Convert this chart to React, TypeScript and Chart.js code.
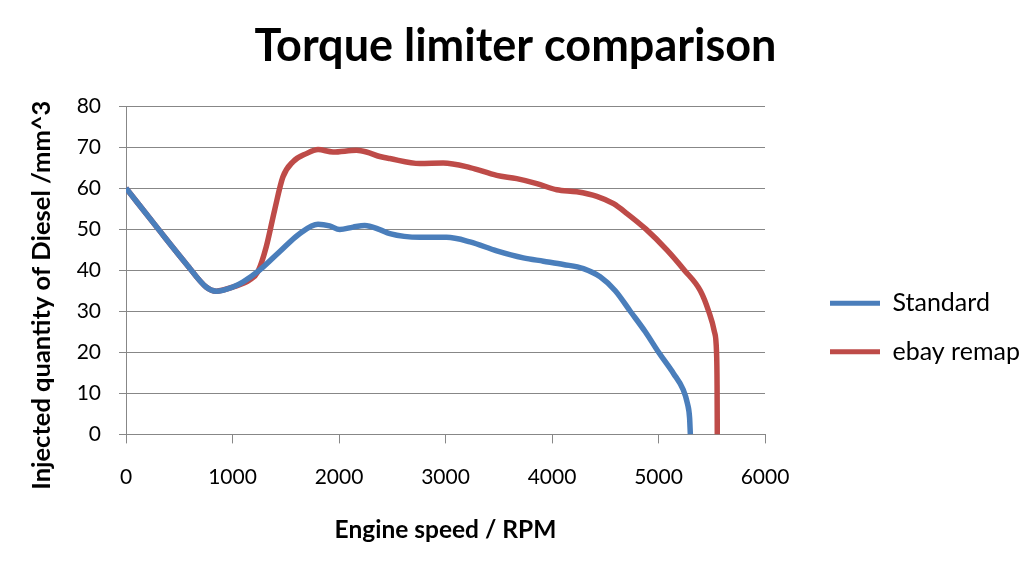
import React, { useEffect, useRef } from 'react';
import { Chart, registerables } from 'chart.js';

Chart.register(...registerables);

// ---- data ----
const chartTitle = 'Torque limiter comparison';
const xAxisTitle = 'Engine speed / RPM';
const yAxisTitle = 'Injected quantity of Diesel /mm^3';
const seriesNames = ['Standard', 'ebay remap'];
const seriesColors = ['#4A7EBB', '#BE4B48'];

const rpmStandard = [0, 313, 564, 752, 847, 1003, 1097, 1254, 1442, 1630, 1803, 1912, 2007, 2132, 2242, 2383, 2477, 2759, 3010, 3230, 3481, 3731, 3919, 4107, 4295, 4452, 4594, 4735, 4876, 5001, 5142, 5230, 5272, 5292, 5299];
const qtyStandard = [60, 49.7, 41.6, 35.9, 34.9, 35.9, 37.1, 40, 44.5, 48.9, 51.2, 50.8, 49.9, 50.5, 50.9, 49.9, 48.9, 48.0, 48.0, 46.9, 44.7, 43.0, 42.2, 41.4, 40.4, 38.4, 35, 30, 25, 20, 14.8, 11, 7.5, 4, 0];

const rpmRemap = [0, 313, 564, 752, 847, 1003, 1160, 1238, 1317, 1395, 1473, 1567, 1693, 1803, 1944, 2164, 2258, 2383, 2477, 2759, 2978, 3230, 3481, 3669, 3857, 4045, 4233, 4421, 4578, 4704, 4882, 5080, 5243, 5393, 5471, 5525, 5545, 5550, 5552];
const qtyRemap = [60, 49.7, 41.6, 35.9, 34.9, 35.9, 37.6, 39.6, 45.7, 54.6, 62.7, 66.4, 68.4, 69.4, 68.8, 69.2, 68.8, 67.7, 67.2, 66.0, 66.1, 65.0, 63.1, 62.3, 61.1, 59.6, 59.1, 58.0, 56.2, 53.8, 50, 44.9, 40, 35, 30, 25, 20, 12, 0];

const xTickLabels = ['0', '1000', '2000', '3000', '4000', '5000', '6000'];
const yTickLabels = ['0', '10', '20', '30', '40', '50', '60', '70', '80'];

// ---- styling / layout ----
const FONT = 'Lato, "Open Sans", sans-serif';
const GRID = '#878787';
const W = 1031;
const H = 565;
const PLOT_RIGHT = 765;       // right edge of plot area
const LEGEND_PAD = 23.5;
const LEGEND_DX = 41.5;       // extra gap between plot and legend items
const LEGEND_DY = 110;        // vertical nudge of legend block
const YTITLE_DY = 25;         // y-axis title offset (downwards)

function toPoints(xs: number[], ys: number[]) {
  return xs.map((x, i) => ({ x, y: ys[i] }));
}

const layoutTweaks = {
  id: 'layoutTweaks',
  beforeLayout(chart: any) {
    const lg = chart.legend;
    if (lg && !lg._tweaked) {
      lg._tweaked = true;
      const fit = lg.fit;
      lg.fit = function () {
        fit.call(this);
        this.width = W - PLOT_RIGHT;
      };
      const draw = lg.draw;
      lg.draw = function () {
        const l = this.left;
        const t = this.top;
        this.left = l + LEGEND_DX;
        this.top = t + LEGEND_DY;
        draw.call(this);
        this.left = l;
        this.top = t;
      };
    }
  },
  afterLayout(chart: any) {
    const y = chart.scales && chart.scales.y;
    if (y && !y._tweaked) {
      y._tweaked = true;
      const drawTitle = y.drawTitle;
      y.drawTitle = function (...args: any[]) {
        const t = this.top;
        const b = this.bottom;
        this.top = t + YTITLE_DY;
        this.bottom = b + YTITLE_DY;
        drawTitle.apply(this, args);
        this.top = t;
        this.bottom = b;
      };
    }
  },
};

export default function App() {
  const ref = useRef<HTMLCanvasElement | null>(null);

  useEffect(() => {
    if (!ref.current) return;
    const lineDataset = (i: number, xs: number[], ys: number[]) => ({
      label: seriesNames[i],
      data: toPoints(xs, ys),
      borderColor: seriesColors[i],
      backgroundColor: seriesColors[i],
      borderWidth: 5.5,
      showLine: true,
      pointRadius: 0,
      pointHoverRadius: 0,
      cubicInterpolationMode: 'monotone',
      borderCapStyle: 'butt',
    });
    const chart = new Chart(ref.current, {
      type: 'scatter',
      data: {
        datasets: [lineDataset(0, rpmStandard, qtyStandard), lineDataset(1, rpmRemap, qtyRemap)],
      },
      options: {
        animation: false,
        responsive: false,
        devicePixelRatio: 1,
        layout: { padding: { left: 0, right: 0, top: 0, bottom: 20 } },
        plugins: {
          tooltip: { enabled: false },
          title: {
            display: true,
            text: chartTitle,
            color: '#000',
            font: { family: FONT, size: 45, weight: 'bold' },
            padding: { top: 19, bottom: 33 },
          },
          legend: {
            display: true,
            position: 'right',
            labels: {
              boxWidth: 50,
              boxHeight: 5,
              padding: LEGEND_PAD,
              color: '#000',
              font: { family: FONT, size: 25 },
              generateLabels: (c: any) =>
                (Chart.defaults.plugins.legend.labels as any)
                  .generateLabels(c)
                  .map((l: any) => ({ ...l, lineWidth: 0 })),
            },
          },
        },
        scales: {
          x: {
            type: 'linear',
            min: 0,
            max: 6000,
            ticks: {
              stepSize: 1000,
              color: '#000',
              font: { family: FONT, size: 21 },
              padding: 21,
              maxRotation: 0,
              callback: (_v: any, i: number) => xTickLabels[i],
            },
            grid: { drawOnChartArea: false, drawTicks: true, tickLength: 9, color: GRID },
            border: { color: GRID, width: 1 },
            title: {
              display: true,
              text: xAxisTitle,
              color: '#000',
              font: { family: FONT, size: 24.5, weight: 'bold' },
              padding: { top: 5, bottom: 0 },
            },
          },
          y: {
            type: 'linear',
            min: 0,
            max: 80,
            ticks: {
              stepSize: 10,
              color: '#000',
              font: { family: FONT, size: 21 },
              padding: 18,
              callback: (_v: any, i: number) => yTickLabels[i],
            },
            grid: { drawTicks: true, tickLength: 7, color: GRID },
            border: { color: GRID, width: 1 },
            title: {
              display: true,
              text: yAxisTitle,
              color: '#000',
              font: { family: FONT, size: 25.5, weight: 'bold' },
              padding: { top: 26, bottom: 0 },
            },
            afterFit: (s: any) => {
              s.width = 126;
            },
          },
        },
      },
      plugins: [layoutTweaks],
    } as any);
    return () => chart.destroy();
  }, []);

  return (
    <div style={{ position: 'fixed', left: 0, top: 0, width: W, height: H, background: '#fff' }}>
      <canvas ref={ref} width={W} height={H} style={{ display: 'block' }} />
    </div>
  );
}
